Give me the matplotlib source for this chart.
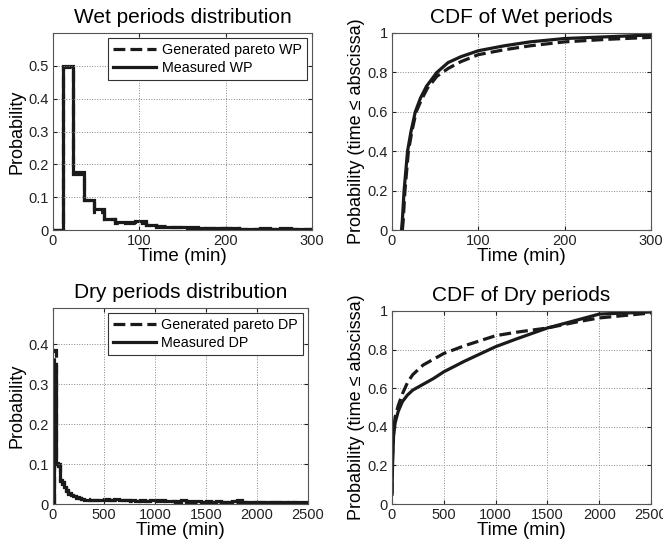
import numpy as np
import matplotlib
matplotlib.use("Agg")
import matplotlib.pyplot as plt
from matplotlib.ticker import FuncFormatter

plt.rcParams['font.family'] = ['Liberation Sans', 'DejaVu Sans']

# --- Wet periods histogram (bin edges in min, probabilities) ---
wet_edges = np.array([0, 11.5, 23.5, 35.5, 47.5, 59.5, 71.5, 83.5, 95.5, 107.5, 119.5, 131.5,
                      143.5, 155.5, 167.5, 179.5, 191.5, 203.5, 215.5, 227.5, 239.5, 251.5,
                      263.5, 275.5, 287.5, 300])
wet_measured = [0, 0.500, 0.177, 0.092, 0.065, 0.035, 0.025, 0.024, 0.027, 0.014, 0.008,
                0.010, 0.009, 0.008, 0.007, 0.006, 0.005, 0.006, 0.004, 0.004, 0.005,
                0.004, 0.005, 0.004, 0.003]
wet_generated = [0, 0.497, 0.172, 0.090, 0.055, 0.032, 0.022, 0.022, 0.020, 0.016, 0.012,
                 0.009, 0.008, 0.007, 0.006, 0.006, 0.005, 0.005, 0.004, 0.004, 0.004,
                 0.003, 0.003, 0.003, 0.003]

# --- Dry periods histogram ---
dry_edges = np.concatenate([[0, 10, 30, 50, 70, 90, 110, 130, 150, 175, 200, 225, 250, 275, 300],
                            np.arange(350, 2501, 50)])
dry_measured = [0, 0.345, 0.102, 0.100, 0.058, 0.055, 0.042, 0.035, 0.025, 0.022, 0.020,
                0.016, 0.014, 0.012,
                0.011, 0.010, 0.011, 0.010, 0.012, 0.011, 0.013, 0.010, 0.009, 0.010,
                0.008, 0.009, 0.008, 0.009, 0.011, 0.009, 0.008, 0.007, 0.008, 0.009,
                0.007, 0.008, 0.007, 0.006, 0.008, 0.006, 0.007, 0.006, 0.006, 0.007,
                0.011, 0.006, 0.005, 0.005, 0.006, 0.005, 0.005, 0.004, 0.005, 0.004,
                0.005, 0.004, 0.004, 0.004]
dry_generated = [0, 0.385, 0.100, 0.095, 0.060, 0.050, 0.040, 0.032, 0.027, 0.023, 0.019,
                 0.017, 0.015, 0.013,
                 0.012, 0.011, 0.011, 0.010, 0.010, 0.010, 0.009, 0.009, 0.009, 0.008,
                 0.008, 0.008, 0.008, 0.007, 0.008, 0.007, 0.007, 0.007, 0.006, 0.007,
                 0.006, 0.006, 0.006, 0.006, 0.005, 0.006, 0.005, 0.005, 0.005, 0.005,
                 0.005, 0.005, 0.004, 0.005, 0.004, 0.004, 0.004, 0.004, 0.004, 0.004,
                 0.003, 0.004, 0.003, 0.003]

# --- CDF of wet periods ---
wet_cdf_x_meas = [11, 12, 14, 18, 22, 27, 33, 40, 52, 65, 80, 100, 130, 160, 200, 250, 300]
wet_cdf_y_meas = [0, 0.05, 0.20, 0.40, 0.50, 0.60, 0.67, 0.73, 0.80, 0.85, 0.88, 0.91,
                  0.935, 0.955, 0.972, 0.981, 0.99]
wet_cdf_x_gen = [12, 13, 15, 19, 23, 28, 34, 41, 52, 65, 80, 100, 130, 160, 200, 250, 300]
wet_cdf_y_gen = [0, 0.05, 0.20, 0.40, 0.50, 0.60, 0.66, 0.72, 0.78, 0.82, 0.855, 0.89,
                 0.915, 0.935, 0.955, 0.968, 0.978]

# --- CDF of dry periods ---
dry_cdf_x_meas = [0, 5, 15, 30, 60, 100, 150, 200, 300, 400, 500, 700, 1000, 1200, 1500,
                  1800, 2000, 2500]
dry_cdf_y_meas = [0.05, 0.20, 0.35, 0.42, 0.48, 0.53, 0.565, 0.59, 0.62, 0.65, 0.685,
                  0.74, 0.815, 0.855, 0.912, 0.955, 0.984, 0.995]
dry_cdf_x_gen = [0, 5, 15, 30, 60, 100, 150, 200, 300, 500, 700, 1000, 1200, 1500, 1800,
                 2000, 2500]
dry_cdf_y_gen = [0.05, 0.25, 0.38, 0.45, 0.51, 0.57, 0.63, 0.67, 0.72, 0.78, 0.82, 0.872,
                 0.89, 0.912, 0.945, 0.964, 0.99]

LC = '#1a1a1a'
LW = 2.3

fig = plt.figure(figsize=(6.63, 5.5), dpi=100)
W, H = 663, 550


def box(x0, x1, top, bottom):
    return [x0 / W, (H - bottom) / H, (x1 - x0) / W, (bottom - top) / H]


def fmt(v, pos):
    return ('%g' % round(v, 3))


def style(ax, title, ylabel):
    ax.set_title(title, fontsize=15, pad=7)
    ax.set_xlabel('Time (min)', fontsize=13.5, labelpad=0)
    ax.set_ylabel(ylabel, fontsize=13, labelpad=2)
    ax.grid(True, linestyle=':', color='#888888', linewidth=0.7)
    ax.tick_params(direction='in', length=3, labelsize=10.5, colors='#222222',
                   top=True, right=True, pad=3)
    for s in ax.spines.values():
        s.set_color('#555555')
        s.set_linewidth(0.8)
    ax.xaxis.set_major_formatter(FuncFormatter(fmt))
    ax.yaxis.set_major_formatter(FuncFormatter(fmt))


ax1 = fig.add_axes(box(53, 312, 33, 230))
ax1.stairs(wet_generated, wet_edges, color=LC, lw=LW, ls='--', label='Generated pareto WP')
ax1.stairs(wet_measured, wet_edges, color=LC, lw=LW, label='Measured WP')
ax1.set_xlim(0, 300)
ax1.set_ylim(0, 0.6)
ax1.set_xticks([0, 100, 200, 300])
ax1.set_yticks([0, 0.1, 0.2, 0.3, 0.4, 0.5])
style(ax1, 'Wet periods distribution', 'Probability')

ax2 = fig.add_axes(box(392, 651, 33, 230))
ax2.plot(wet_cdf_x_gen, wet_cdf_y_gen, color=LC, lw=LW, ls='--')
ax2.plot(wet_cdf_x_meas, wet_cdf_y_meas, color=LC, lw=LW)
ax2.set_xlim(0, 300)
ax2.set_ylim(0, 1)
ax2.set_xticks([0, 100, 200, 300])
ax2.set_yticks([0, 0.2, 0.4, 0.6, 0.8, 1])
style(ax2, 'CDF of Wet periods', 'Probability (time \u2264 abscissa)')

ax3 = fig.add_axes(box(53, 308, 308, 504))
ax3.stairs(dry_generated, dry_edges, color=LC, lw=LW, ls='--', label='Generated pareto DP')
ax3.stairs(dry_measured, dry_edges, color=LC, lw=LW, label='Measured DP')
ax3.set_xlim(0, 2500)
ax3.set_ylim(0, 0.49)
ax3.set_xticks([0, 500, 1000, 1500, 2000, 2500])
ax3.set_yticks([0, 0.1, 0.2, 0.3, 0.4])
style(ax3, 'Dry periods distribution', 'Probability')

ax4 = fig.add_axes(box(392, 651, 311, 504))
ax4.plot(dry_cdf_x_gen, dry_cdf_y_gen, color=LC, lw=LW, ls='--')
ax4.plot(dry_cdf_x_meas, dry_cdf_y_meas, color=LC, lw=LW)
ax4.set_xlim(0, 2500)
ax4.set_ylim(0, 1)
ax4.set_xticks([0, 500, 1000, 1500, 2000, 2500])
ax4.set_yticks([0, 0.2, 0.4, 0.6, 0.8, 1])
style(ax4, 'CDF of Dry periods', 'Probability (time \u2264 abscissa)')

for ax in (ax1, ax3):
    leg = ax.legend(loc='upper right', fontsize=10.3, handlelength=3.0, handletextpad=0.4,
                    fancybox=False, framealpha=1, borderaxespad=0.35, borderpad=0.35,
                    labelspacing=0.25)
    leg.get_frame().set_edgecolor('#333333')
    leg.get_frame().set_linewidth(0.8)

fig.savefig('out.png', dpi=100)
